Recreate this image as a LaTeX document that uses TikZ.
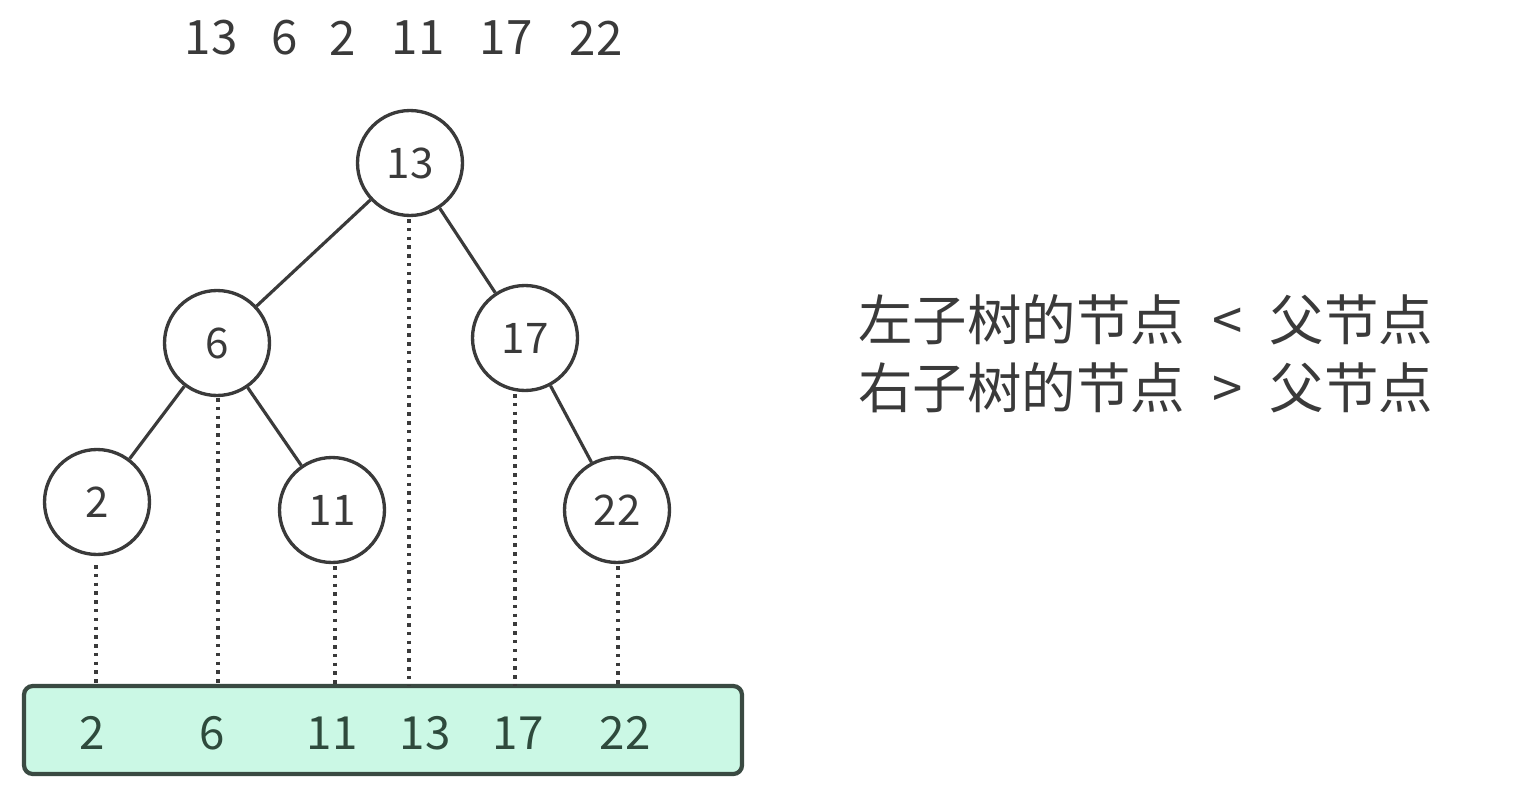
\documentclass[tikz,border=0pt]{standalone}
\usepackage{fontspec}
\setmainfont{Noto Sans CJK SC}
\definecolor{ink}{HTML}{3A3A3A}
\definecolor{barfill}{HTML}{CBF8E5}
\definecolor{barline}{HTML}{3A4A42}
\definecolor{bartext}{HTML}{2E4A3C}
\begin{document}
\begin{tikzpicture}[x=0.02cm,y=-0.02cm,
  treenode/.style={circle,draw=ink,line width=1.9pt,minimum size=2.1cm,inner sep=0pt,font=\fontsize{24}{28}\selectfont,text=ink},
  edge/.style={draw=ink,line width=1.8pt},
  guide/.style={draw=ink,line width=2pt,dash pattern=on 2pt off 3pt},
  toplabel/.style={font=\fontsize{27}{32}\selectfont,text=ink,inner sep=0pt},
  barlabel/.style={font=\fontsize{26}{32}\selectfont,text=bartext,inner sep=0pt},
  rule/.style={font=\fontsize{31}{38}\selectfont,text=ink,inner sep=0pt,anchor=west}]
\useasboundingbox (0,0) rectangle (1514,794);
% top sequence
\node[toplabel] (t1) at (211,38) {13};
\node[toplabel] (t2) at (285,38) {6};
\node[toplabel] (t3) at (343,38) {2};
\node[toplabel] (t4) at (418,38) {11};
\node[toplabel] (t5) at (506,38) {17};
\node[toplabel] (t6) at (596,38) {22};
% bar
\node[draw=barline,fill=barfill,line width=2.4pt,rounded corners=5pt,minimum width=718*0.02cm,minimum height=88*0.02cm,inner sep=0pt] (bar) at (383,730) {};
% bottom anchor points on bar top
\coordinate (b2) at (96,686);
\coordinate (b6) at (218,686);
\coordinate (b11) at (335,686);
\coordinate (b13) at (409,686);
\coordinate (b17) at (515,686);
\coordinate (b22) at (618,686);
% tree
\node[treenode] (n13) at (410,163) {13};
\node[treenode] (n6) at (217,343) {6};
\node[treenode] (n17) at (525,338) {17};
\node[treenode] (n2) at (97,502) {2};
\node[treenode] (n11) at (332,510) {11};
\node[treenode] (n22) at (617,510) {22};
\draw[edge] (n13) -- (n6);
\draw[edge] (n13) -- (n17);
\draw[edge] (n6) -- (n2);
\draw[edge] (n6) -- (n11);
\draw[edge] (n17) -- (n22);
% guides
\coordinate (s2) at (96,565);
\coordinate (s6) at (218,398);
\coordinate (s11) at (335,566);
\coordinate (s13) at (409,219);
\coordinate (s17) at (515,394);
\coordinate (s22) at (618,566);
\draw[guide] (s2) -- (b2);
\draw[guide] (s6) -- (b6);
\draw[guide] (s11) -- (b11);
\draw[guide] (s13) -- (b13);
\draw[guide] (s17) -- (b17);
\draw[guide] (s22) -- (b22);
% bar labels
\node[barlabel] (v2) at (92,733) {2};
\node[barlabel] (v6) at (212,733) {6};
\node[barlabel] (v11) at (332,733) {11};
\node[barlabel] (v13) at (425,733) {13};
\node[barlabel] (v17) at (518,733) {17};
\node[barlabel] (v22) at (625,733) {22};
% rules
\node[rule] (r1) at (858,320) {左子树的节点\hspace{0.5em}<\hspace{0.5em}父节点};
\node[rule] (r2) at (858,388) {右子树的节点\hspace{0.5em}>\hspace{0.5em}父节点};
\end{tikzpicture}
\end{document}
